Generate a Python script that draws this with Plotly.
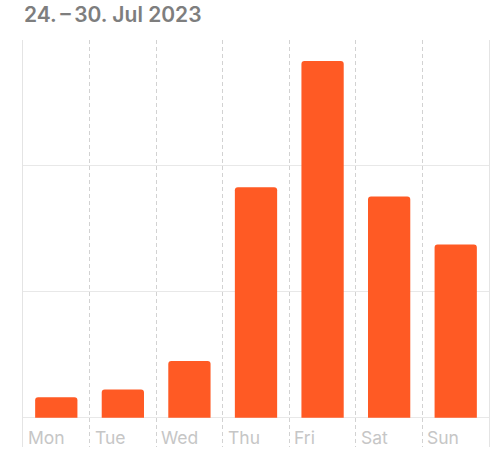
import plotly.graph_objects as go

days = ["Mon", "Tue", "Wed", "Thu", "Fri", "Sat", "Sun"]
values = [0.162, 0.225, 0.45, 1.83, 2.833, 1.757, 1.376]
y_ticks = [0, 1, 2, 3]
title_text = "24.\u2009\u2013\u200930. Jul 2023"

W, H = 495, 465
fig = go.Figure()
fig.add_trace(go.Bar(
    x=list(range(len(days))), y=values,
    marker=dict(color="#ff5a24", line=dict(width=0)),
    width=0.635, hoverinfo="skip",
))

boundaries = [i + 0.5 for i in range(len(days) - 1)]

for i, d in enumerate(days):
    fig.add_annotation(
        x=i - 0.5, y=-0.16, xref="x", yref="y",
        text=d, showarrow=False, xanchor="left", yanchor="middle",
        xshift=3,
        font=dict(family="Inter, Roboto, sans-serif", size=17.5, color="#c6c6c6"),
    )

fig.update_layout(
    width=W, height=H,
    margin=dict(l=23, r=6, t=40, b=18),
    paper_bgcolor="white", plot_bgcolor="white",
    showlegend=False,
    barcornerradius=3,
    title=dict(
        text=title_text, x=24 / W, xref="container", xanchor="left",
        y=1 - 15 / H, yref="container", yanchor="middle",
        font=dict(family="Inter, Roboto, sans-serif", size=21, color="#7e7e7e", weight=600),
    ),
    xaxis=dict(
        range=[-0.5, len(days) - 0.5],
        tickvals=boundaries, showticklabels=False, ticks="",
        showgrid=True, gridcolor="#d2d2d2", gridwidth=1, griddash="4px,3px",
        zeroline=False, showline=False, fixedrange=True,
    ),
    yaxis=dict(
        range=[-0.2325, 3],
        tickvals=y_ticks, showticklabels=False, ticks="",
        showgrid=True, gridcolor="#e8e8e8", gridwidth=1,
        zeroline=False,
        showline=True, mirror=True, linecolor="#e4e4e4", linewidth=1,
        fixedrange=True,
    ),
)

fig.write_html(
    "out.html",
    config={"displayModeBar": False},
    post_script="document.body.style.margin='0';document.body.style.overflow='hidden';",
)
